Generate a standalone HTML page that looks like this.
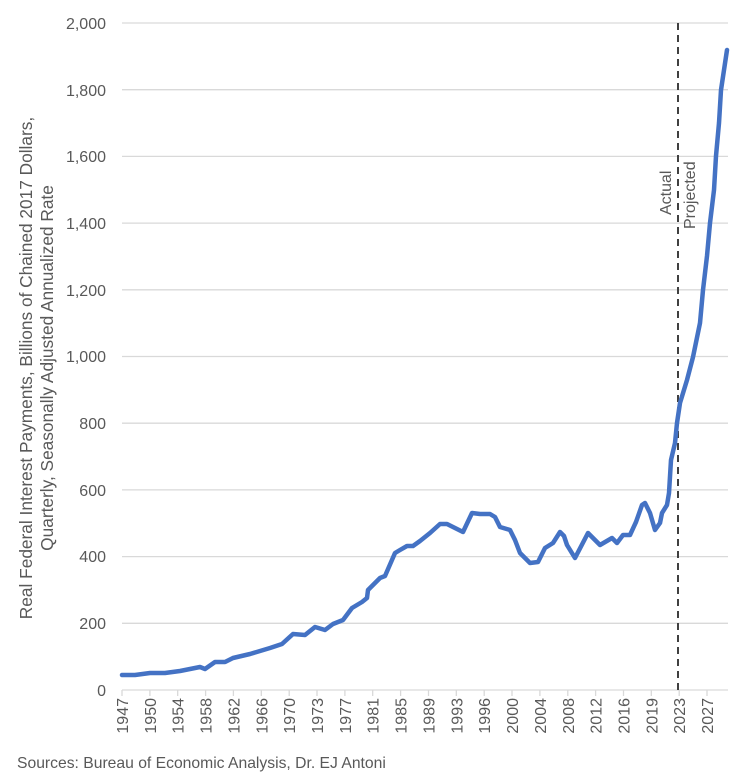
<!DOCTYPE html>
<html><head><meta charset="utf-8"><style>
body{margin:0;background:#fff;}
svg text{font-family:"Liberation Sans",sans-serif;fill:#595959;}
</style></head><body>
<svg width="750" height="776" viewBox="0 0 750 776" xmlns="http://www.w3.org/2000/svg">
<g stroke="#d9d9d9" stroke-width="1.3">
<line x1="122" x2="728" y1="23" y2="23"/>
<line x1="122" x2="728" y1="89.7" y2="89.7"/>
<line x1="122" x2="728" y1="156.4" y2="156.4"/>
<line x1="122" x2="728" y1="223.1" y2="223.1"/>
<line x1="122" x2="728" y1="289.8" y2="289.8"/>
<line x1="122" x2="728" y1="356.5" y2="356.5"/>
<line x1="122" x2="728" y1="423.2" y2="423.2"/>
<line x1="122" x2="728" y1="489.9" y2="489.9"/>
<line x1="122" x2="728" y1="556.6" y2="556.6"/>
<line x1="122" x2="728" y1="623.3" y2="623.3"/>
<line x1="122" x2="728" y1="690" y2="690"/>
<line x1="122" x2="122" y1="690" y2="696"/><line x1="149.9" x2="149.9" y1="690" y2="696"/>
<line x1="177.7" x2="177.7" y1="690" y2="696"/><line x1="205.6" x2="205.6" y1="690" y2="696"/>
<line x1="233.4" x2="233.4" y1="690" y2="696"/><line x1="261.3" x2="261.3" y1="690" y2="696"/>
<line x1="289.2" x2="289.2" y1="690" y2="696"/><line x1="317" x2="317" y1="690" y2="696"/>
<line x1="344.9" x2="344.9" y1="690" y2="696"/><line x1="372.7" x2="372.7" y1="690" y2="696"/>
<line x1="400.6" x2="400.6" y1="690" y2="696"/><line x1="428.5" x2="428.5" y1="690" y2="696"/>
<line x1="456.3" x2="456.3" y1="690" y2="696"/><line x1="484.2" x2="484.2" y1="690" y2="696"/>
<line x1="512" x2="512" y1="690" y2="696"/><line x1="539.9" x2="539.9" y1="690" y2="696"/>
<line x1="567.8" x2="567.8" y1="690" y2="696"/><line x1="595.6" x2="595.6" y1="690" y2="696"/>
<line x1="623.5" x2="623.5" y1="690" y2="696"/><line x1="651.3" x2="651.3" y1="690" y2="696"/>
<line x1="679.2" x2="679.2" y1="690" y2="696"/><line x1="707" x2="707" y1="690" y2="696"/>
</g>
<g font-size="16" text-anchor="end">
<text x="106" y="29">2,000</text><text x="106" y="96">1,800</text><text x="106" y="162">1,600</text>
<text x="106" y="229">1,400</text><text x="106" y="296">1,200</text><text x="106" y="362">1,000</text>
<text x="106" y="429">800</text><text x="106" y="496">600</text><text x="106" y="562">400</text>
<text x="106" y="629">200</text><text x="106" y="696">0</text>
</g>
<g font-size="16" text-anchor="end">
<text transform="translate(128,698) rotate(-90)">1947</text>
<text transform="translate(155.9,698) rotate(-90)">1950</text>
<text transform="translate(183.7,698) rotate(-90)">1954</text>
<text transform="translate(211.6,698) rotate(-90)">1958</text>
<text transform="translate(239.4,698) rotate(-90)">1962</text>
<text transform="translate(267.3,698) rotate(-90)">1966</text>
<text transform="translate(295.2,698) rotate(-90)">1970</text>
<text transform="translate(323,698) rotate(-90)">1973</text>
<text transform="translate(350.9,698) rotate(-90)">1977</text>
<text transform="translate(378.7,698) rotate(-90)">1981</text>
<text transform="translate(406.6,698) rotate(-90)">1985</text>
<text transform="translate(434.5,698) rotate(-90)">1989</text>
<text transform="translate(462.3,698) rotate(-90)">1993</text>
<text transform="translate(490.2,698) rotate(-90)">1996</text>
<text transform="translate(518,698) rotate(-90)">2000</text>
<text transform="translate(545.9,698) rotate(-90)">2004</text>
<text transform="translate(573.8,698) rotate(-90)">2008</text>
<text transform="translate(601.6,698) rotate(-90)">2012</text>
<text transform="translate(629.5,698) rotate(-90)">2016</text>
<text transform="translate(657.3,698) rotate(-90)">2019</text>
<text transform="translate(685.2,698) rotate(-90)">2023</text>
<text transform="translate(713,698) rotate(-90)">2027</text>
</g>
<line x1="678" x2="678" y1="23" y2="690" stroke="#404040" stroke-width="2" stroke-dasharray="7,5"/>
<text transform="translate(671,215) rotate(-90)" font-size="16" fill="#404040">Actual</text>
<text transform="translate(695,229) rotate(-90)" font-size="16" fill="#404040">Projected</text>
<polyline fill="none" stroke="#4472c4" stroke-width="4.5" stroke-linejoin="round" stroke-linecap="round" points="
122,675 135,675 150,673 165,673 180,671 195,668 200,667 205,669 215,662 225,662 233,658 250,654 270,648 282,644 293,634 305,635 315,627 325,630 333,624 343,620 352,608 362,602 367,598 368,590 380,578 385,576 395,553 400,550 407,546 413,546 420,541 430,533 440,524 447,524 457,529 463,532 472,513 480,514 490,514 495,517 500,527 510,530 515,540 520,553 530,563 538,562 545,548 553,543 560,532 564,536 567,545 575,558 588,533 600,545 612,538 617,543 623,535 630,535 636,522 642,505 645,503 650,513 655,530 660,523 662,513 667,505 669,493 671,460 675,443 677,423 680,403 687,380 693,357 700,323 703,290 707,256 710,223 714,190 716,156 719,123 721,90 724,70 727,50"/>
<text transform="translate(32,368) rotate(-90)" font-size="17.3" text-anchor="middle">Real Federal Interest Payments, Billions of Chained 2017 Dollars,</text>
<text transform="translate(53,368) rotate(-90)" font-size="17.3" text-anchor="middle">Quarterly, Seasonally Adjusted Annualized Rate</text>
<text x="17" y="768" font-size="15.7">Sources: Bureau of Economic Analysis, Dr. EJ Antoni</text>
</svg>
</body></html>
